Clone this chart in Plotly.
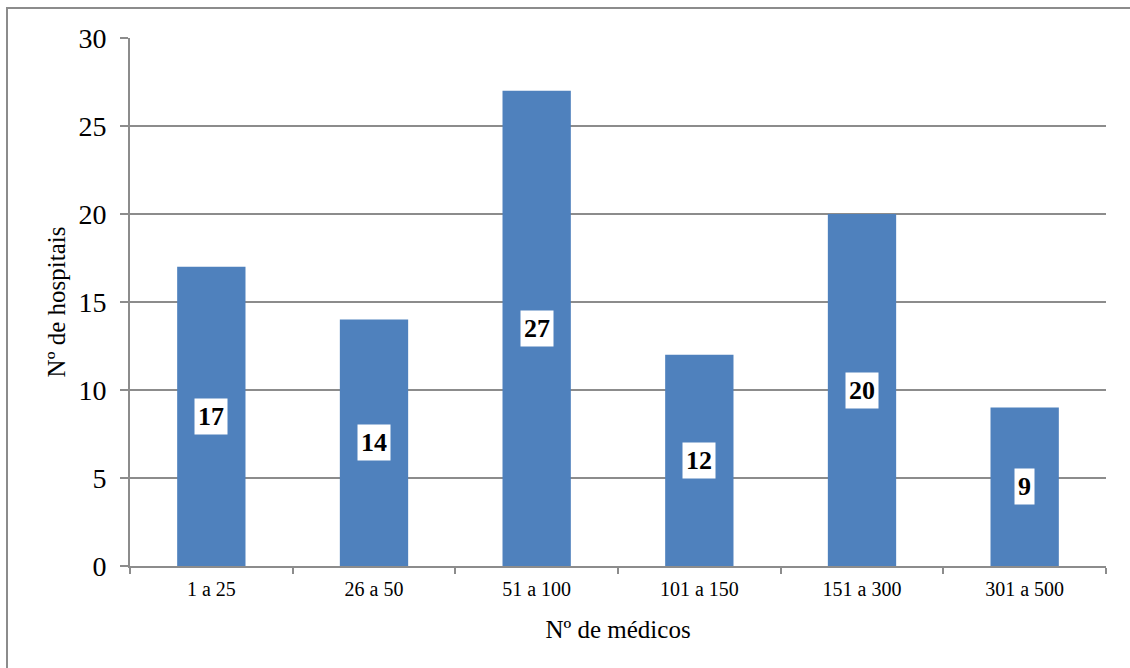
import plotly.graph_objects as go

categories = ["1 a 25", "26 a 50", "51 a 100", "101 a 150", "151 a 300", "301 a 500"]
values = [17, 14, 27, 12, 20, 9]
y_ticks = [0, 5, 10, 15, 20, 25, 30]

FONT = "Liberation Serif, Times New Roman, serif"
GRID = "#8c8c8c"

fig = go.Figure(go.Bar(
    x=categories, y=values,
    marker=dict(color="#4F81BD", line=dict(width=0)),
    width=0.42,
))

for c, v in zip(categories, values):
    fig.add_annotation(
        x=c, y=v / 2, text=f"<b>{v}</b>", showarrow=False,
        font=dict(family=FONT, size=26, color="black"),
        bgcolor="white", borderpad=3,
    )

L, R, T, B = 130, 24, 38, 102
W, H = 1130, 668
pw, ph = W - L - R, H - T - B

# outer frame
fig.add_shape(
    type="rect", xref="paper", yref="paper",
    x0=(7 - L) / pw, x1=(W + 20 - L) / pw,
    y0=-(H + 20 - T - ph) / ph, y1=1 + (T - 8) / ph,
    line=dict(color="#8c8c8c", width=2), layer="below",
)

fig.update_layout(
    width=W, height=H,
    margin=dict(l=L, r=R, t=T, b=B),
    paper_bgcolor="white", plot_bgcolor="white",
    showlegend=False,
    font=dict(family=FONT, color="black"),
    xaxis=dict(
        type="category", tickson="boundaries",
        ticks="outside", ticklen=6, tickcolor=GRID, tickwidth=2,
        showline=True, linecolor=GRID, linewidth=2,
        tickfont=dict(family=FONT, size=20), ticklabelstandoff=4,
        title=dict(text="Nº de médicos", font=dict(family=FONT, size=25), standoff=21),
        showgrid=False,
    ),
    yaxis=dict(
        range=[0, 30], tickvals=y_ticks,
        ticks="outside", ticklen=8, tickcolor=GRID, tickwidth=2,
        showline=True, linecolor=GRID, linewidth=2,
        showgrid=True, gridcolor=GRID, gridwidth=1.5,
        tickfont=dict(family=FONT, size=28), ticklabelstandoff=8,
        title=dict(text="Nº de hospitais", font=dict(family=FONT, size=25), standoff=6),
        zeroline=False,
    ),
)

fig.write_html(
    "out.html",
    config={"displayModeBar": False},
    post_script="document.body.style.margin='0';document.body.style.overflow='hidden';",
)
